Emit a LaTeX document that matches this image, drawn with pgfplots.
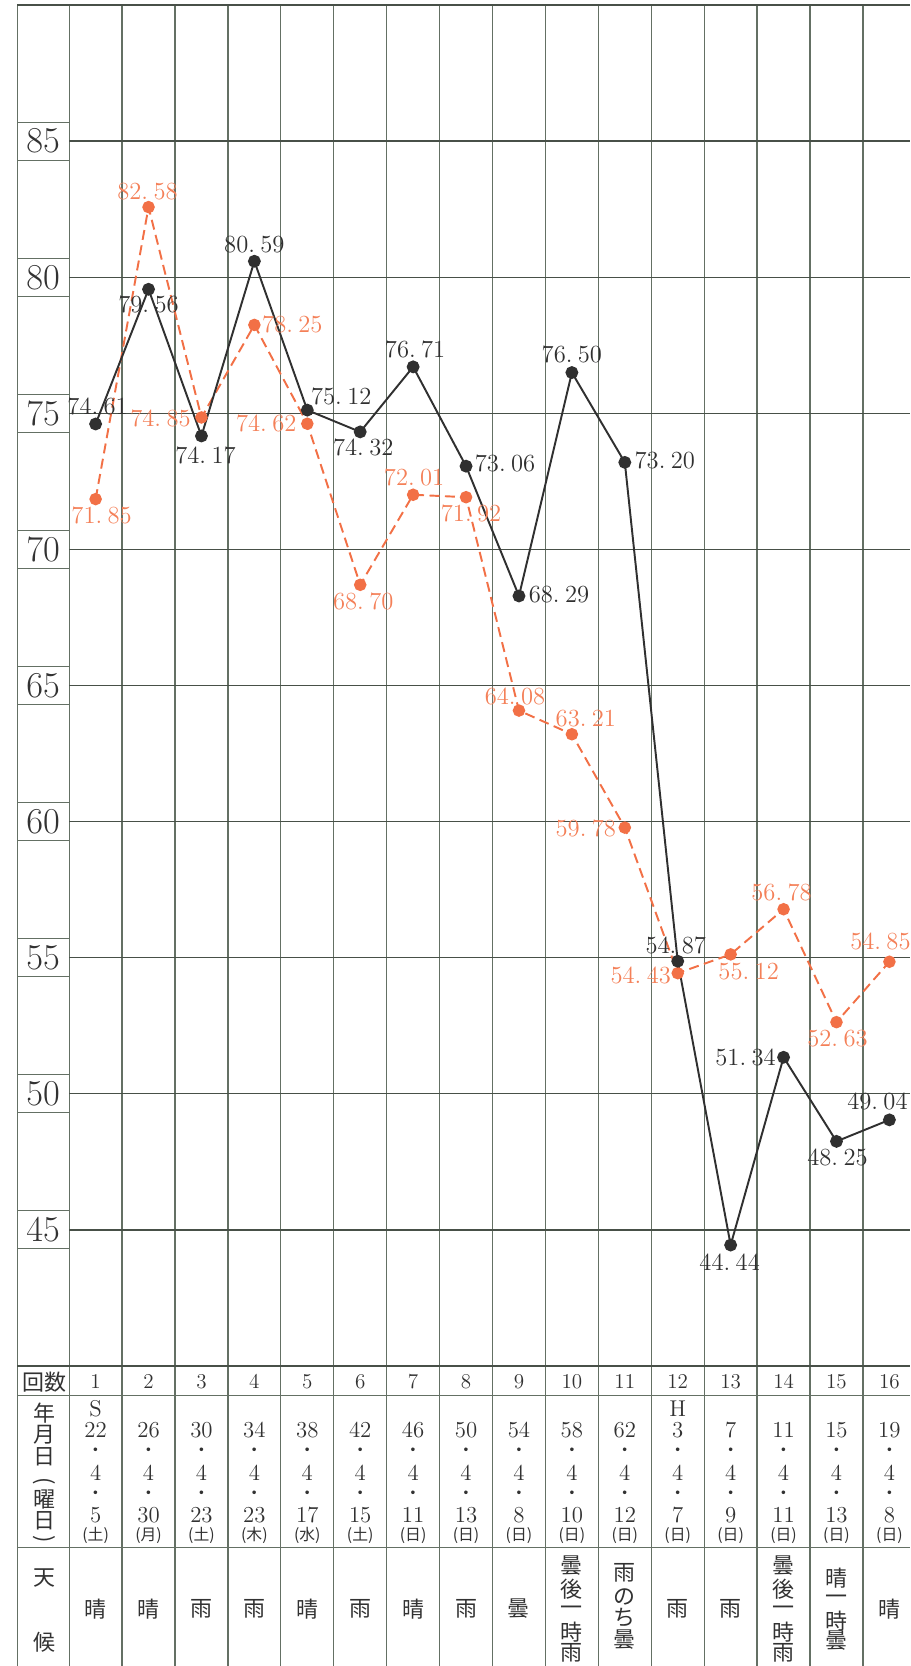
\documentclass[border=0pt]{standalone}
\usepackage{pgfplots}
\pgfplotsset{compat=1.18}
\usepackage{fontspec}
\newfontfamily\cjk{Noto Sans CJK JP}
\definecolor{vgrid}{RGB}{100,112,100}
\definecolor{hgrid}{RGB}{72,80,72}
\definecolor{blk}{RGB}{48,48,48}
\definecolor{org}{RGB}{242,112,70}
\definecolor{orgt}{RGB}{244,128,88}
\definecolor{txt}{RGB}{50,50,50}
\newcommand{\vv}[2]{#1.\kern0.22em#2}
\newcommand{\lb}[6]{\node[lbl,text=#6,xshift=#4*0.02cm,yshift=#5*0.02cm] at (axis cs:#1,#2) {#3};}
\tikzset{
  vline/.style={draw=vgrid,line width=0.7pt},
  hline/.style={draw=hgrid,line width=0.85pt},
  lbl/.style={font=\fontsize{14}{14}\selectfont,anchor=center,inner sep=0pt},
  dt/.style={font=\fontsize{13}{13}\selectfont,text=txt,inner sep=0pt},
  dotn/.style={font=\fontsize{7}{7}\selectfont,text=txt,inner sep=0pt},
  wk/.style={font=\cjk\fontsize{9}{9}\selectfont,text=txt,inner sep=0pt},
  cj/.style={font=\cjk\fontsize{12.5}{12.5}\selectfont,text=txt,inner sep=0pt},
}
\begin{document}
\begin{tikzpicture}[declare function={px(\q)=0.5+(\q-69)/52.93; py(\p)=40-(\p-1366)/27.22;}]
\begin{axis}[
  width=18.2cm, height=33.32cm, scale only axis,
  xmin=-0.8036, xmax=16.389, ymin=28.979, ymax=90.184,
  axis line style={draw=none},
  major tick length=0pt,
  xtick={1,...,16}, ytick={45,50,...,85},
  yticklabel style={anchor=center, xshift=0.86cm, font=\fontsize{20}{20}\selectfont, text=txt},
  xticklabel style={anchor=center, yshift=5.686cm, font=\fontsize{12}{12}\selectfont, text=txt},
]
% grid and table lines
\pgfplotsinvokeforeach{0.5,1.5,2.5,3.5,4.5,5.5,6.5,7.5,8.5,9.5,10.5,11.5,12.5,13.5,14.5,15.5}{
  \draw[vline] (axis cs:#1,90) -- (axis cs:#1,28.979);
}
\draw[vline] (axis cs:{px(17)},90) -- (axis cs:{px(17)},28.979);
\draw[hline] (axis cs:{px(17)},90) -- (axis cs:16.389,90);
\pgfplotsinvokeforeach{45,50,55,60,65,70,75,80,85}{
  \draw[hline] (axis cs:0.5,#1) -- (axis cs:16.389,#1);
  \draw[vline] (axis cs:{px(17)},{#1+0.698}) -- (axis cs:0.5,{#1+0.698});
  \draw[vline] (axis cs:{px(17)},{#1-0.698}) -- (axis cs:0.5,{#1-0.698});
}
\draw[hline] (axis cs:{px(17)},40) -- (axis cs:16.389,40);
\draw[vline] (axis cs:{px(17)},{py(1396)}) -- (axis cs:16.389,{py(1396)});
\draw[vline] (axis cs:{px(17)},{py(1548)}) -- (axis cs:16.389,{py(1548)});

% data
\addplot[org, line width=1.1pt, dash pattern=on 0.2cm off 0.11cm, mark=*, mark size=3pt, mark options={solid, fill=org, draw=org}] coordinates {
(1,71.85) (2,82.58) (3,74.85) (4,78.25) (5,74.62) (6,68.70) (7,72.01) (8,71.92)
(9,64.08) (10,63.21) (11,59.78) (12,54.43) (13,55.12) (14,56.78) (15,52.63) (16,54.85)};
\addplot[blk, line width=1.1pt, mark=*, mark size=3.1pt, mark options={fill=blk, draw=blk}] coordinates {
(1,74.61) (2,79.56) (3,74.17) (4,80.59) (5,75.12) (6,74.32) (7,76.71) (8,73.06)
(9,68.29) (10,76.50) (11,73.20) (12,54.87) (13,44.44) (14,51.34) (15,48.25) (16,49.04)};

% labels black
\lb{1}{74.61}{\vv{74}{61}}{2}{18}{blk}
\lb{2}{79.56}{\vv{79}{56}}{0}{-15}{blk}
\lb{3}{74.17}{\vv{74}{17}}{4}{-19}{blk}
\lb{4}{80.59}{\vv{80}{59}}{0}{17}{blk}
\lb{5}{75.12}{\vv{75}{12}}{34}{14}{blk}
\lb{6}{74.32}{\vv{74}{32}}{3}{-16}{blk}
\lb{7}{76.71}{\vv{76}{71}}{2}{17}{blk}
\lb{8}{73.06}{\vv{73}{06}}{39}{3}{blk}
\lb{9}{68.29}{\vv{68}{29}}{40}{1}{blk}
\lb{10}{76.50}{\vv{76}{50}}{0}{18}{blk}
\lb{11}{73.20}{\vv{73}{20}}{40}{2}{blk}
\lb{12}{54.87}{\vv{54}{87}}{-2}{16}{blk}
\lb{13}{44.44}{\vv{44}{44}}{-1}{-17}{blk}
\lb{14}{51.34}{\vv{51}{34}}{-38}{0}{blk}
\lb{15}{48.25}{\vv{48}{25}}{1}{-16}{blk}
\lb{16}{49.04}{\vv{49}{04}}{-12}{18}{blk}
% labels orange
\lb{1}{71.85}{\vv{71}{85}}{6}{-16}{orgt}
\lb{2}{82.58}{\vv{82}{58}}{-1}{16}{orgt}
\lb{3}{74.85}{\vv{74}{85}}{-41}{-1}{orgt}
\lb{4}{78.25}{\vv{78}{25}}{38}{0}{orgt}
\lb{5}{74.62}{\vv{74}{62}}{-41}{0}{orgt}
\lb{6}{68.70}{\vv{68}{70}}{3}{-17}{orgt}
\lb{7}{72.01}{\vv{72}{01}}{1}{17}{orgt}
\lb{8}{71.92}{\vv{71}{92}}{5}{-16}{orgt}
\lb{9}{64.08}{\vv{64}{08}}{-4}{14}{orgt}
\lb{10}{63.21}{\vv{63}{21}}{14}{16}{orgt}
\lb{11}{59.78}{\vv{59}{78}}{-39}{-1}{orgt}
\lb{12}{54.43}{\vv{54}{43}}{-37}{-2}{orgt}
\lb{13}{55.12}{\vv{55}{12}}{18}{-17}{orgt}
\lb{14}{56.78}{\vv{56}{78}}{-2}{17}{orgt}
\lb{15}{52.63}{\vv{52}{63}}{1}{-16}{orgt}
\lb{16}{54.85}{\vv{54}{85}}{-9}{20}{orgt}

% header column
\node[cj] at (axis cs:{px(44)},{py(1382)}) {回数};
\node[cj] at (axis cs:{px(44)},{py(1413)}) {年};
\node[cj] at (axis cs:{px(44)},{py(1435)}) {月};
\node[cj] at (axis cs:{px(44)},{py(1457)}) {日};
\node[cj,rotate=-90] at (axis cs:{px(44)},{py(1481)}) {(};
\node[cj] at (axis cs:{px(44)},{py(1500)}) {曜};
\node[cj] at (axis cs:{px(44)},{py(1521)}) {日};
\node[cj,rotate=-90] at (axis cs:{px(44)},{py(1539)}) {)};
\node[cj] at (axis cs:{px(44)},{py(1578)}) {天};
\node[cj] at (axis cs:{px(44)},{py(1642)}) {候};

% dates
\node[dt] at (axis cs:1,{py(1409)}) {S};
\node[dt] at (axis cs:12,{py(1409)}) {H};
\foreach \i/\yr/\dd/\wd in {1/22/5/土,2/26/30/月,3/30/23/土,4/34/23/木,5/38/17/水,6/42/15/土,7/46/11/日,8/50/13/日,9/54/8/日,10/58/10/日,11/62/12/日,12/3/7/日,13/7/9/日,14/11/11/日,15/15/13/日,16/19/8/日}{
  \edef\tmp{
    \noexpand\node[dt] at (axis cs:\i,{py(1430)}) {\yr};
    \noexpand\node[dotn] at (axis cs:\i,{py(1450)}) {\noexpand\textbullet};
    \noexpand\node[dt] at (axis cs:\i,{py(1473)}) {4};
    \noexpand\node[dotn] at (axis cs:\i,{py(1493)}) {\noexpand\textbullet};
    \noexpand\node[dt] at (axis cs:\i,{py(1515)}) {\dd};
    \noexpand\node[wk] at (axis cs:\i,{py(1536)}) {(\wd)};
  }\tmp
}
% weather
\foreach \i/\w in {1/晴,2/晴,3/雨,4/雨,5/晴,6/雨,7/晴,8/雨,9/曇,12/雨,13/雨,16/晴}{
  \edef\tmp{\noexpand\node[cj] at (axis cs:\i,{py(1609)}) {\w};}\tmp
}
\foreach \i in {10,14}{
  \edef\tmp{
    \noexpand\node[cj] at (axis cs:\i,{py(1566)}) {曇};
    \noexpand\node[cj] at (axis cs:\i,{py(1589)}) {後};
    \noexpand\node[cj] at (axis cs:\i,{py(1611)}) {一};
    \noexpand\node[cj] at (axis cs:\i,{py(1632)}) {時};
    \noexpand\node[cj] at (axis cs:\i,{py(1653)}) {雨};
  }\tmp
}
\node[cj] at (axis cs:11,{py(1573)}) {雨};
\node[cj] at (axis cs:11,{py(1597)}) {の};
\node[cj] at (axis cs:11,{py(1618)}) {ち};
\node[cj] at (axis cs:11,{py(1640)}) {曇};
\node[cj] at (axis cs:15,{py(1578)}) {晴};
\node[cj] at (axis cs:15,{py(1600)}) {一};
\node[cj] at (axis cs:15,{py(1621)}) {時};
\node[cj] at (axis cs:15,{py(1641)}) {曇};
\end{axis}
\end{tikzpicture}
\end{document}
